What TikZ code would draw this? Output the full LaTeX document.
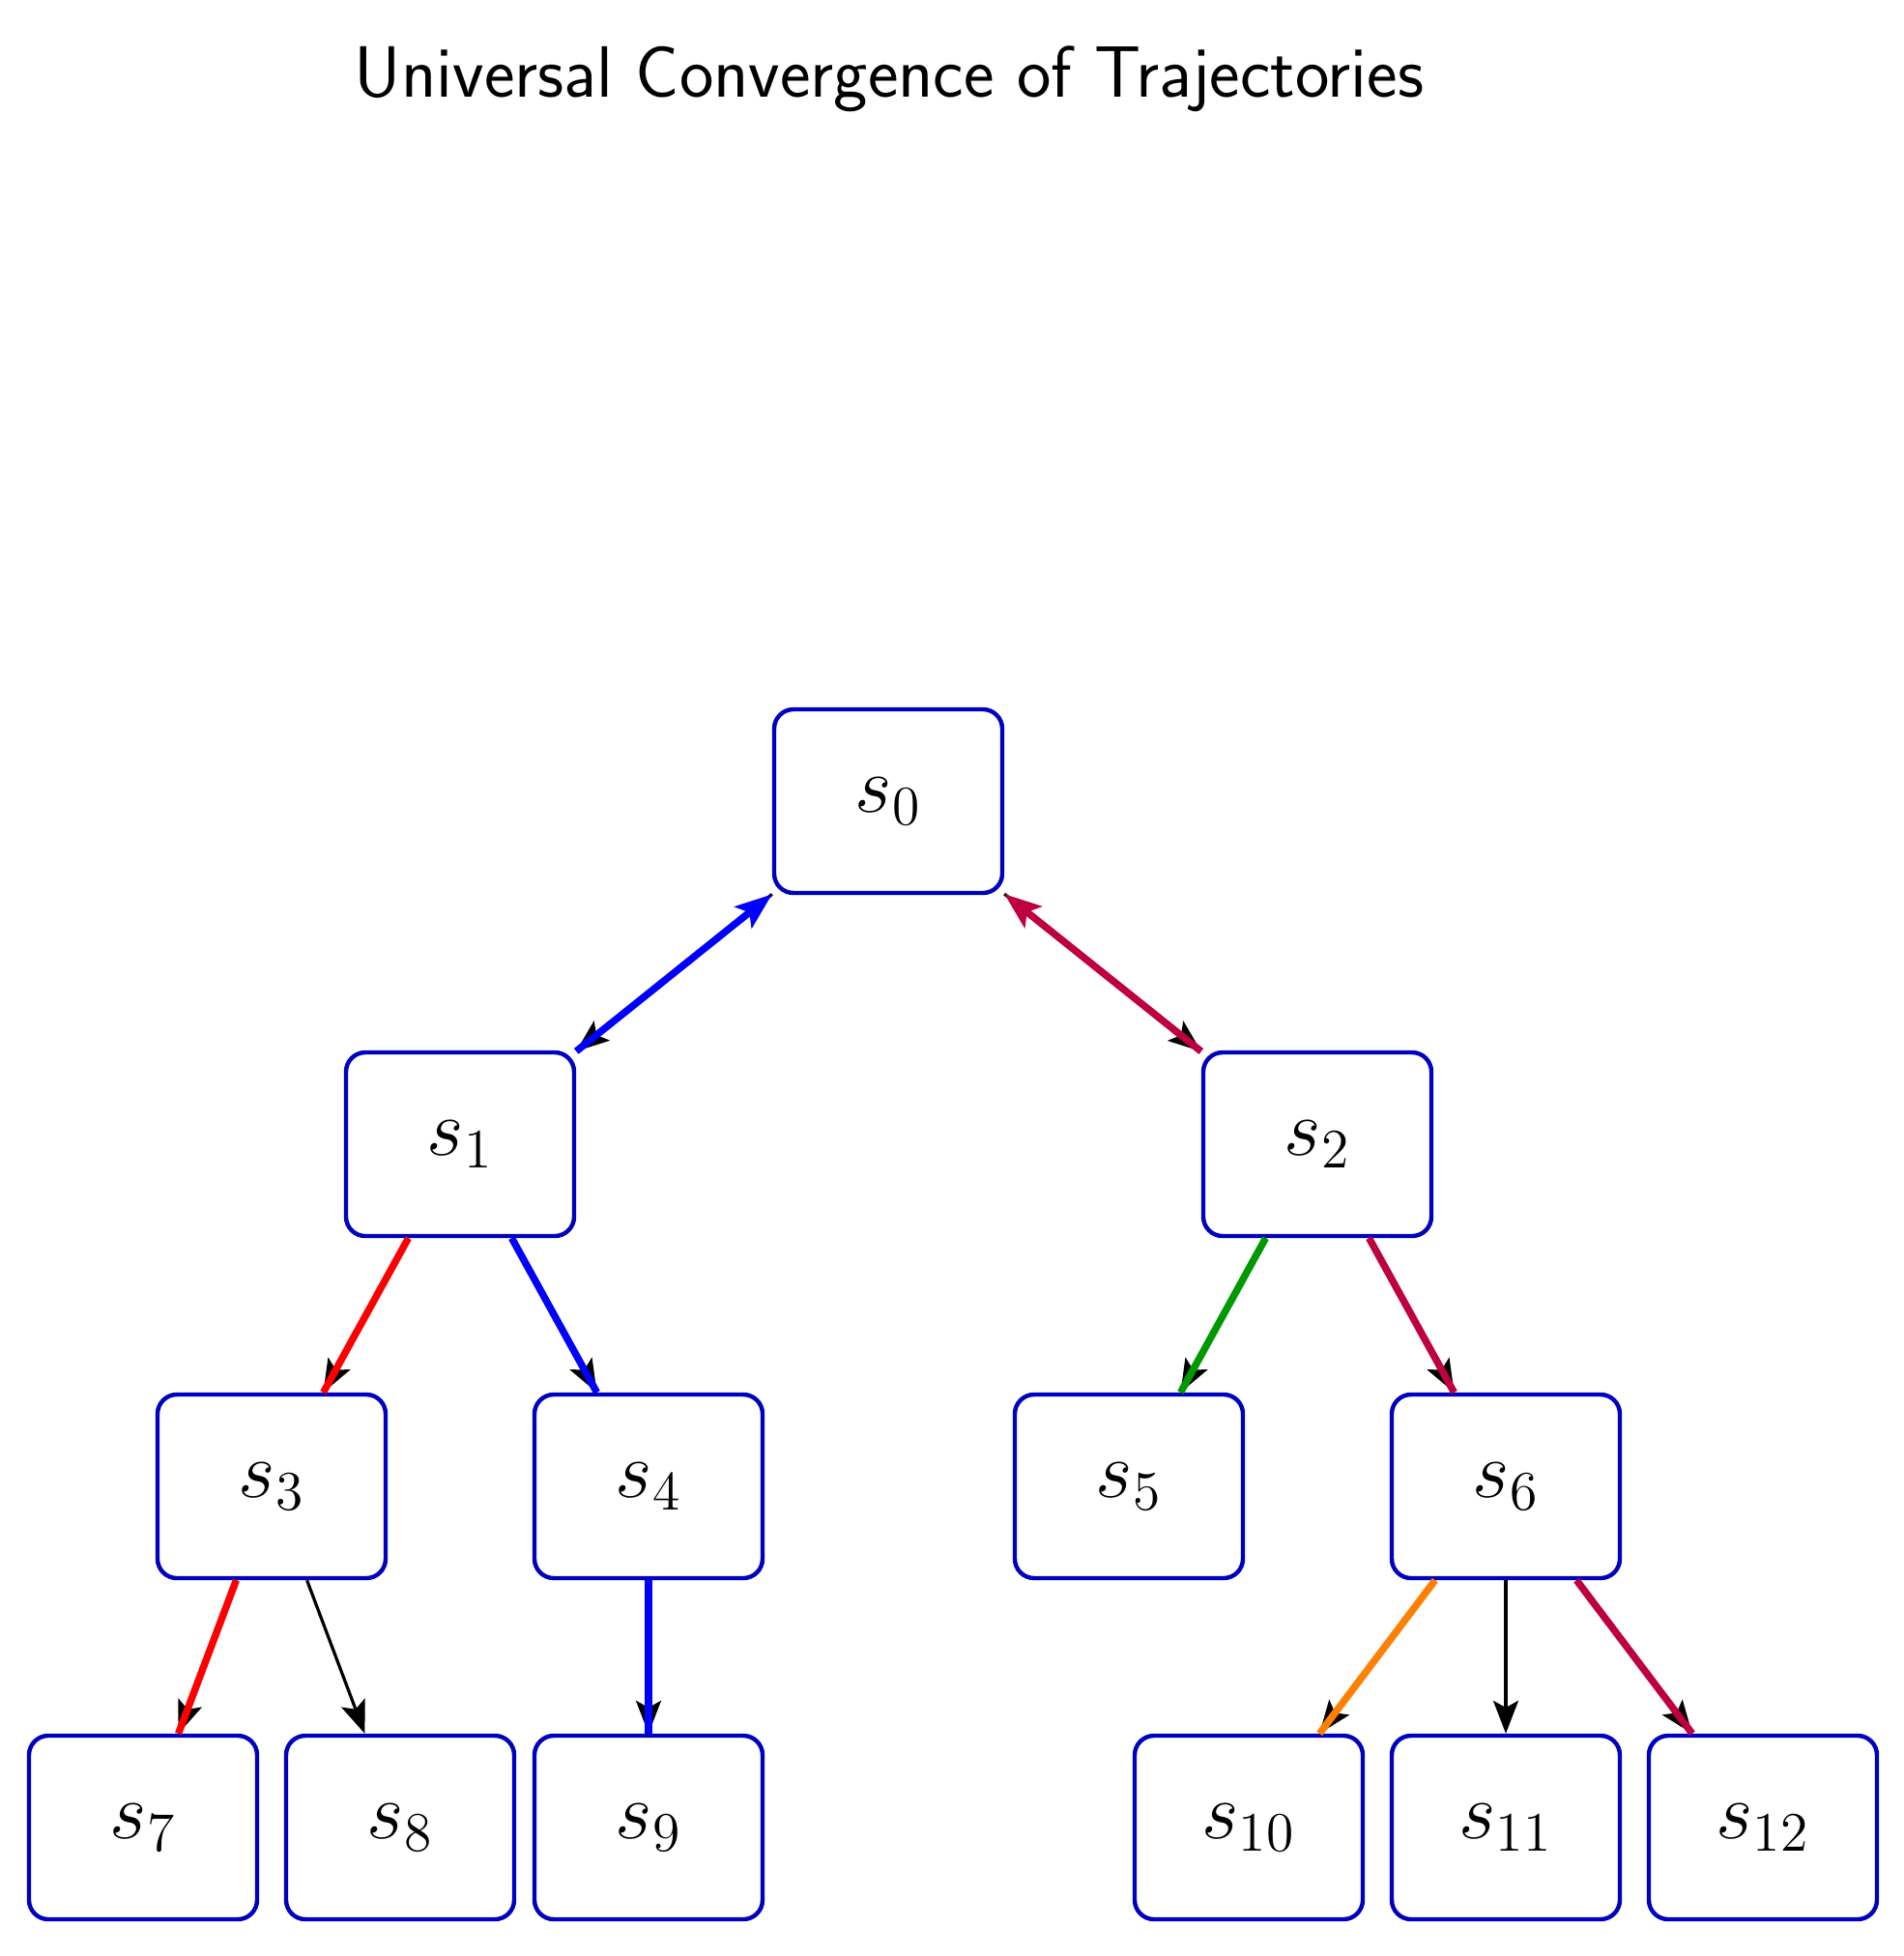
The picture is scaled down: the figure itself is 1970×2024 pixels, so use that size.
\documentclass[tikz,border=0pt]{standalone}
\usetikzlibrary{arrows.meta}
\definecolor{boxblue}{rgb}{0,0,0.75}
\definecolor{edgegreen}{rgb}{0,0.6,0}
\definecolor{edgepurple}{rgb}{0.75,0,0.25}
\definecolor{edgeorange}{rgb}{1,0.5,0}
\begin{document}
\begin{tikzpicture}[x=0.25pt,y=-0.25pt,
  state/.style={draw=boxblue, line width=1.1pt, rounded corners=5pt,
    minimum width=59pt, minimum height=47.5pt, fill=white, inner sep=0pt,
    font=\fontsize{22}{26}\selectfont},
  basearrow/.style={-{Stealth[length=8.5pt,width=6.5pt,inset=1.8pt]}, line width=0.8pt, black},
  overline/.style={line width=1.85pt},
  toptip/.style={{Stealth[length=9.5pt,width=7pt,inset=2pt]}-}
]
\useasboundingbox (0,0) rectangle (1970,2024);
\node[font=\sffamily\fontsize{18.8}{22}\selectfont, anchor=base] (title) at (920,100) {Universal Convergence of Trajectories};

\node[state] (s0) at (919,829) {$s_0$};
\node[state] (s1) at (476,1184) {$s_1$};
\node[state] (s2) at (1363,1184) {$s_2$};
\node[state] (s3) at (281,1538) {$s_3$};
\node[state] (s4) at (671,1538) {$s_4$};
\node[state] (s5) at (1168,1538) {$s_5$};
\node[state] (s6) at (1558,1538) {$s_6$};
\node[state] (s7) at (148,1891) {$s_7$};
\node[state] (s8) at (414,1891) {$s_8$};
\node[state] (s9) at (671,1891) {$s_9$};
\node[state] (s10) at (1292,1891) {$s_{10}$};
\node[state] (s11) at (1558,1891) {$s_{11}$};
\node[state] (s12) at (1824,1891) {$s_{12}$};

% black base arrows
\foreach \a/\b in {s0/s1,s0/s2,s1/s3,s1/s4,s2/s5,s2/s6,s3/s7,s3/s8,s4/s9,s6/s10,s6/s11,s6/s12}
  \draw[basearrow] (\a) -- (\b);

% coloured overlays
\draw[overline, blue, toptip] (s0) -- (s1);
\draw[overline, edgepurple, toptip] (s0) -- (s2);
\draw[overline, red] (s1) -- (s3);
\draw[overline, blue] (s1) -- (s4);
\draw[overline, edgegreen] (s2) -- (s5);
\draw[overline, edgepurple] (s2) -- (s6);
\draw[overline, red] (s3) -- (s7);
\draw[overline, blue] (s4) -- (s9);
\draw[overline, edgeorange] (s6) -- (s10);
\draw[overline, edgepurple] (s6) -- (s12);
\end{tikzpicture}
\end{document}
